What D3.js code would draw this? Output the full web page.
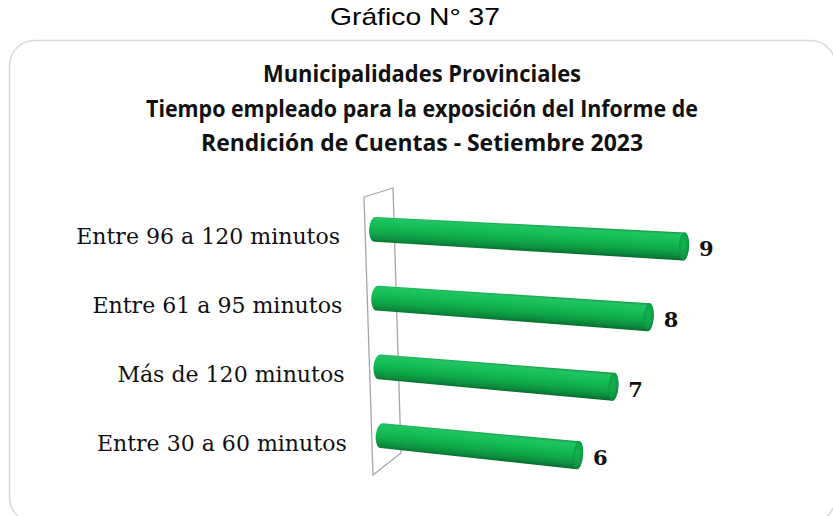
<!DOCTYPE html>
<html><head><meta charset="utf-8">
<script src="https://cdn.jsdelivr.net/npm/d3@7"></script>
<style>html,body{margin:0;padding:0;background:#fff;}svg{display:block;}</style>
</head><body>
<svg id="c" width="833" height="516"></svg>
<script>
const header = "Gráfico N° 37";
const titleLines = ["Municipalidades Provinciales",
  "Tiempo empleado para la exposición del Informe de",
  "Rendición de Cuentas - Setiembre 2023"];
const categories = ["Entre 96 a 120 minutos","Entre 61 a 95 minutos","Más de 120 minutos","Entre 30 a 60 minutos"];
const values = [9, 8, 7, 6];

const svg = d3.select("#c");

// frame
svg.append("rect").attr("x",9.5).attr("y",40.5).attr("width",826).attr("height",482)
  .attr("rx",25).attr("fill","#fff").attr("stroke","#d9d9d9").attr("stroke-width",1.5);

// header
svg.append("text").attr("x",415).attr("y",25).attr("text-anchor","middle")
  .attr("font-family","Liberation Sans, Arial, sans-serif").attr("font-size",24)
  .attr("textLength",170).attr("lengthAdjust","spacingAndGlyphs")
  .attr("fill","#000").text(header);

// title
const tw = [318, 552, 442];
titleLines.forEach((t,i)=>{
  svg.append("text").attr("x",422).attr("y",82+i*34.5).attr("text-anchor","middle")
    .attr("font-family","Open Sans, sans-serif").attr("font-weight","bold").attr("font-size",24)
    .attr("textLength",tw[i]).attr("lengthAdjust","spacingAndGlyphs")
    .attr("fill","#111").text(t);
});

// scales
const y = d3.scaleBand().domain(categories).range([195, 470]);
const x = d3.scaleLinear().domain([0, 9]).range([366, 684]);

// wall (back plane) geometry
const wallTop = 197, wallBot = 475;
const wallLeftX = yy => 364 + 9*(yy - wallTop)/(wallBot - wallTop);
const defs = svg.append("defs");
const bg = defs.append("linearGradient").attr("id","body").attr("x1",0).attr("y1",0).attr("x2",0).attr("y2",1);
[[0,"#129846"],[0.1,"#21c462"],[0.35,"#13bd55"],[0.6,"#0fab4a"],[0.85,"#0c8c3d"],[1,"#076a2c"]]
  .forEach(s=>bg.append("stop").attr("offset",s[0]).attr("stop-color",s[1]));
const cg = defs.append("radialGradient").attr("id","cap").attr("cx",0.45).attr("cy",0.4).attr("r",0.7);
[[0,"#14b452"],[0.6,"#0e9e45"],[1,"#087a33"]]
  .forEach(s=>cg.append("stop").attr("offset",s[0]).attr("stop-color",s[1]));

svg.append("path")
  .attr("d", `M${wallLeftX(wallTop)},${wallTop} L393,188 L401,453 L${wallLeftX(wallBot)},${wallBot} Z`)
  .attr("fill","none").attr("stroke","#a6a6a6").attr("stroke-width",1.3);

// vanishing point for perspective
const vp = [-4200, -23];
const data = categories.map((c,i)=>({c, v: values[i]}));

const fontCat = "DejaVu Serif, serif";
data.forEach(d=>{
  const yl = y(d.c) + y.bandwidth()/2;
  const xl = wallLeftX(yl) + 10;
  const slope = (yl - vp[1])/(xl - vp[0]);
  const xr = x(d.v);
  const yr = yl + (xr - xl)*slope;
  const L = Math.hypot(xr-xl, yr-yl);
  const ang = Math.atan2(yr-yl, xr-xl)*180/Math.PI;
  const r1 = 12.5, r2 = 14, rx1 = 6, rx2 = 5;
  const g = svg.append("g").attr("transform",`translate(${xl},${yl}) rotate(${ang})`);
  g.append("path")
    .attr("d",`M0,${-r1} L${L},${-r2} A${rx2},${r2} 0 0 1 ${L},${r2} L0,${r1} A${rx1},${r1} 0 0 1 0,${-r1} Z`)
    .attr("fill","url(#body)");
  g.append("ellipse").attr("cx",L).attr("cy",0).attr("rx",rx2).attr("ry",r2)
    .attr("fill","url(#cap)");
  // value label
  svg.append("text").attr("x",xr+15).attr("y",yr+10)
    .attr("font-family",fontCat).attr("font-weight","bold").attr("font-size",21)
    .attr("fill","#111").text(d.v);
  // category label
  svg.append("text").attr("class","cat").attr("x",wallLeftX(yl)-25).attr("y",yl+15)
    .attr("text-anchor","end").attr("font-family",fontCat).attr("font-size",20)
    .attr("fill","#111").text(d.c);
});
// fit category font size to reference width
const first = svg.select("text.cat").node();
const w0 = first.getComputedTextLength();
const fs = 20*264/w0;
svg.selectAll("text.cat").attr("font-size", fs);
</script>
</body></html>
